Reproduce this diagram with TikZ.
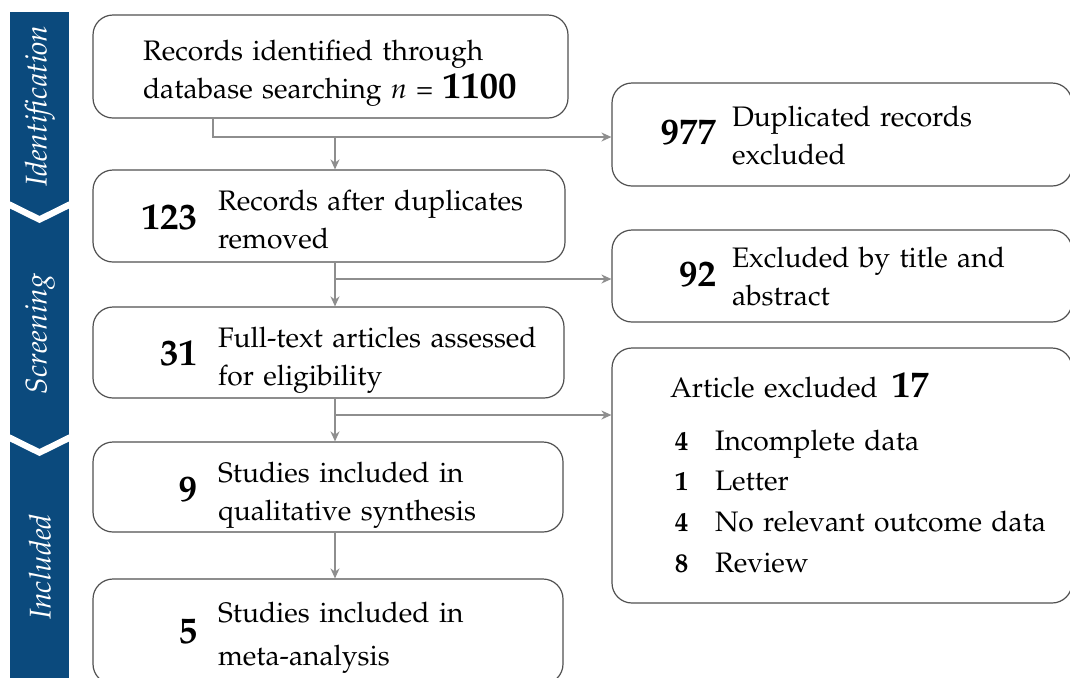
\documentclass[tikz,border=0pt]{standalone}
\usepackage[T1]{fontenc}
\usepackage{mathpazo}
\usepackage{tikz}
\usetikzlibrary{arrows.meta,calc,positioning}
\definecolor{stageblue}{HTML}{0B4A7D}
\definecolor{flowgray}{HTML}{8E8E8E}
\definecolor{edgegray}{HTML}{505050}
\newcommand{\bignum}[1]{{\fontsize{18.5}{20}\selectfont\bfseries #1}}
\newcommand{\smallnum}[1]{{\fontsize{13.5}{15}\selectfont\bfseries #1}}
\newcommand{\dropped}[2]{\raisebox{-#1}[0pt][0pt]{#2}}
\newcommand{\numtxt}[4][10.5pt]{\hspace*{24pt}\dropped{#2}{\makebox[28pt][r]{\bignum{#3}}\hspace{#1}\begin{tabular}[c]{@{}l@{}}#4\end{tabular}}}
\newcommand{\listrow}[2]{\hspace*{30.5pt}\makebox[8.5pt][c]{\smallnum{#1}}\hspace{12.5pt}#2}

\begin{document}
\begin{tikzpicture}[x=0.5pt,y=-0.5pt,>={Stealth[length=5pt,width=4.5pt]},
  box/.style={draw=edgegray,line width=0.6pt,rounded corners=10pt,align=left,
    inner xsep=0pt,inner ysep=0pt,font=\fontsize{14.1}{19}\selectfont},
  flow/.style={draw=flowgray,line width=1pt},
  stage/.style={text=white,rotate=90,font=\fontsize{15}{18}\selectfont\itshape}]
\useasboundingbox (0,0) rectangle (1070,677);
\fill[stageblue] (10,12) rectangle (69,690);
\draw[white,line width=3.2pt] (0,200)--(39.5,219.5)--(79,200);
\draw[white,line width=3.2pt] (0,433)--(39.5,452.5)--(79,433);
\node[stage] (ident) at (40,106) {Identification};
\node[stage] (screen) at (40,334) {Screening};
\node[stage] (incl) at (40,567) {Included};

\node[box,text width=237.5pt,minimum height=51.5pt] (idrec) at (330.5,66.5)
  {\hspace*{25pt}\dropped{6pt}{\begin{tabular}[c]{@{}l@{}}Records identified through\\database searching \textit{n} = \bignum{1100}\end{tabular}}};
\node[box,text width=236pt,minimum height=46pt] (afterdup) at (329,216)
  {\numtxt{6.5pt}{123}{Records after duplicates\\removed}};
\node[box,text width=235.5pt,minimum height=45.5pt] (fulltext) at (328.5,352.5)
  {\numtxt{6.5pt}{31}{Full-text articles assessed\\for eligibility}};
\node[box,text width=235pt,minimum height=45pt] (qual) at (328,487)
  {\numtxt{7pt}{9}{Studies included in\\qualitative synthesis}};
\node[box,text width=235pt,minimum height=52.5pt] (meta) at (328,631.5)
  {\numtxt{5.8pt}{5}{Studies included in\\[2.5pt]meta-analysis}};

\node[box,text width=230pt,minimum height=51.5pt] (dupex) at (842,134.5)
  {\numtxt[8pt]{5pt}{977}{Duplicated records\\excluded}};
\node[box,text width=230pt,minimum height=46pt] (titleex) at (842,276)
  {\numtxt[8pt]{5pt}{92}{Excluded by title and\\abstract}};
\node[box,text width=230pt,minimum height=127.5pt,font=\fontsize{14.1}{20.3}\selectfont] (artex) at (842,475.5)
  {\dropped{4.2pt}{\begin{tabular}[c]{@{}l@{}}
   \hspace*{29pt}Article excluded\enspace\bignum{17}\\[6pt]
   \listrow{4}{Incomplete data}\\
   \listrow{1}{Letter}\\
   \listrow{4}{No relevant outcome data}\\
   \listrow{8}{Review}
   \end{tabular}}};

\coordinate (trunk) at (335,0);
\coordinate (split1) at (213,137);
\coordinate (split2) at (335,279);
\coordinate (split3) at (335,415);
\draw[flow,->] (idrec.south -| split1) -- (split1) -- (split1 -| dupex.west);
\draw[flow,->] (split1 -| trunk) -- (trunk |- afterdup.north);
\draw[flow,->] (afterdup.south -| trunk) -- (trunk |- fulltext.north);
\draw[flow,->] (split2) -- (split2 -| titleex.west);
\draw[flow,->] (fulltext.south -| trunk) -- (trunk |- qual.north);
\draw[flow,->] (split3) -- (split3 -| artex.west);
\draw[flow,->] (qual.south -| trunk) -- (trunk |- meta.north);
\end{tikzpicture}
\end{document}
